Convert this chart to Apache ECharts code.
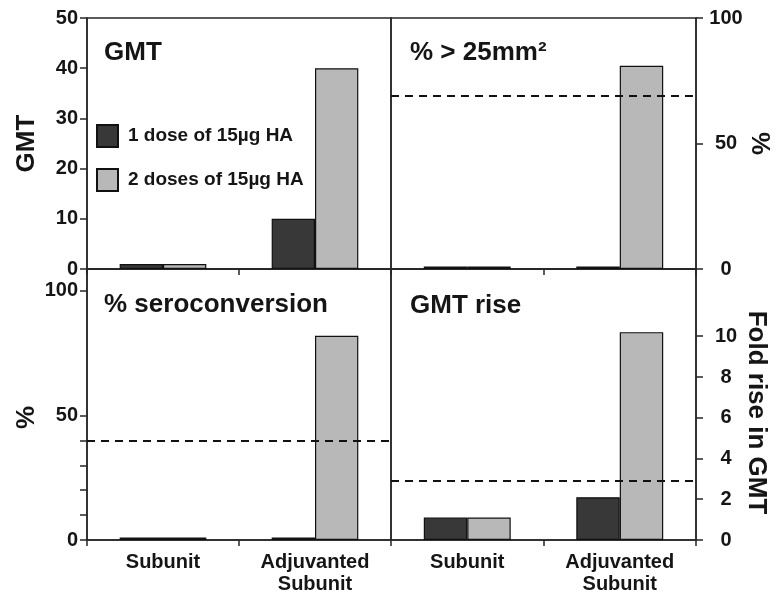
<!DOCTYPE html>
<html>
<head>
<meta charset="utf-8">
<script src="https://cdn.jsdelivr.net/npm/echarts@6/dist/echarts.min.js"></script>
<style>html,body{margin:0;padding:0;background:#fff}#c{width:783px;height:595px}</style>
</head>
<body>
<div id="c"></div>
<script>
// ---- data ----
const categories = ['Subunit', 'Adjuvanted\nSubunit'];
const seriesNames = ['1 dose of 15µg HA', '2 doses of 15µg HA'];
const panelTitles = ['GMT', '% > 25mm²', '% seroconversion', 'GMT rise'];
const gmtOneDose = [1, 10];
const gmtTwoDoses = [1, 40];
const areaOneDose = [1, 1];
const areaTwoDoses = [1, 81];
const seroOneDose = [1, 1];
const seroTwoDoses = [1, 82];
const riseOneDose = [1.1, 2.1];
const riseTwoDoses = [1.1, 10.2];
const areaCriterion = 69;
const seroCriterion = 40;
const riseCriterion = 2.9;
const gmtTicks = [0, 10, 20, 30, 40, 50];
const areaTicks = [0, 50, 100];
const seroTicks = [0, 10, 20, 30, 40, 50, 100];
const seroTickLabels = [0, 50, 100];
const riseTicks = [0, 2, 4, 6, 8, 10];

// ---- styling ----
const FONT = '"Liberation Sans", Arial, sans-serif';
const INK = '#151515';
const LINE = '#262626';
const DARK = '#383838';
const LIGHT = '#b8b8b8';

const chart = echarts.init(document.getElementById('c'), null, {renderer: 'canvas'});

const grids = [
  {left: 87, top: 18, width: 304, height: 251},
  {left: 391, top: 18, width: 305, height: 251},
  {left: 87, top: 269, width: 304, height: 272},
  {left: 391, top: 269, width: 305, height: 272}
].map(g => Object.assign({show: true, borderColor: LINE, borderWidth: 1.5, backgroundColor: 'transparent'}, g));

function xAxis(i, showLabels) {
  return {
    type: 'category', gridIndex: i, data: categories,
    axisLine: {show: true, lineStyle: {color: LINE, width: 1.5}},
    axisTick: {show: true, length: 6, lineStyle: {color: LINE, width: 1.5}},
    axisLabel: {show: showLabels, margin: 11, fontFamily: FONT, fontWeight: 'bold', fontSize: 20, color: INK, lineHeight: 22},
    splitLine: {show: false}
  };
}

function yAxis(i, pos, max, ticks, labels, name, nameGap, padding) {
  const right = pos === 'right';
  return {
    type: 'value', gridIndex: i, position: pos, min: 0, max: max,
    name: name, nameLocation: 'middle', nameRotate: right ? -90 : 90, nameGap: nameGap,
    nameTextStyle: {fontFamily: FONT, fontWeight: 'bold', fontSize: 26, color: INK, padding: padding},
    axisLine: {show: true, lineStyle: {color: LINE, width: 1.5}},
    axisTick: {show: true, length: 7, customValues: ticks, lineStyle: {color: LINE, width: 1.5}},
    axisLabel: {
      show: true, customValues: labels, margin: right ? 30 : 9,
      align: right ? 'center' : 'right',
      fontFamily: FONT, fontWeight: 'bold', fontSize: 20, color: INK
    },
    splitLine: {show: false}
  };
}

function bars(i, one, two) {
  return [
    {name: seriesNames[0], type: 'bar', xAxisIndex: i, yAxisIndex: i, data: one, barGap: '0%', barCategoryGap: '43%',
     itemStyle: {color: DARK, borderColor: '#111', borderWidth: 1.2}, z: 3},
    {name: seriesNames[1], type: 'bar', xAxisIndex: i, yAxisIndex: i, data: two, barGap: '0%', barCategoryGap: '43%',
     itemStyle: {color: LIGHT, borderColor: '#111', borderWidth: 1.2}, z: 3}
  ];
}

function criterion(i, value) {
  return {
    type: 'line', xAxisIndex: i, yAxisIndex: i, data: [], z: 1, silent: true,
    markLine: {
      silent: true, symbol: ['none', 'none'], label: {show: false},
      lineStyle: {color: '#111', type: [8, 6], width: 2},
      data: [{yAxis: value}]
    }
  };
}

function title(text, x, y) {
  return {
    type: 'text', x: x, y: y, z: 10,
    style: {text: text, fontFamily: FONT, fontWeight: 'bold', fontSize: 26, fill: INK, verticalAlign: 'middle', align: 'left'}
  };
}

const option = {
  backgroundColor: '#fff',
  animation: false,
  grid: grids,
  xAxis: [xAxis(0, false), xAxis(1, false), xAxis(2, true), xAxis(3, true)],
  yAxis: [
    yAxis(0, 'left', 50, gmtTicks, gmtTicks, 'GMT', 47, [0, 0, 0, 0]),
    yAxis(1, 'right', 100, areaTicks, areaTicks, '%', 47, [0, 0, 0, 0]),
    yAxis(2, 'left', 108.8, seroTicks, seroTickLabels, '%', 47, [0, 26, 0, 0]),
    yAxis(3, 'right', 13.3, riseTicks, riseTicks, 'Fold rise in GMT', 47, [0, 0, 0, 16])
  ],
  legend: {
    show: true, data: seriesNames, orient: 'vertical', left: 96, top: 124, padding: 0,
    itemWidth: 21, itemHeight: 22, itemGap: 20, icon: 'rect',
    textStyle: {fontFamily: FONT, fontWeight: 'bold', fontSize: 19, color: INK, padding: [0, 0, 0, 5]},
    selectedMode: false
  },
  graphic: [
    title(panelTitles[0], 104, 53),
    title(panelTitles[1], 410, 53),
    title(panelTitles[2], 104, 305),
    title(panelTitles[3], 410, 306)
  ],
  series: [
    ...bars(0, gmtOneDose, gmtTwoDoses),
    ...bars(1, areaOneDose, areaTwoDoses),
    criterion(1, areaCriterion),
    ...bars(2, seroOneDose, seroTwoDoses),
    criterion(2, seroCriterion),
    ...bars(3, riseOneDose, riseTwoDoses),
    criterion(3, riseCriterion)
  ]
};
chart.setOption(option);
</script>
</body>
</html>
